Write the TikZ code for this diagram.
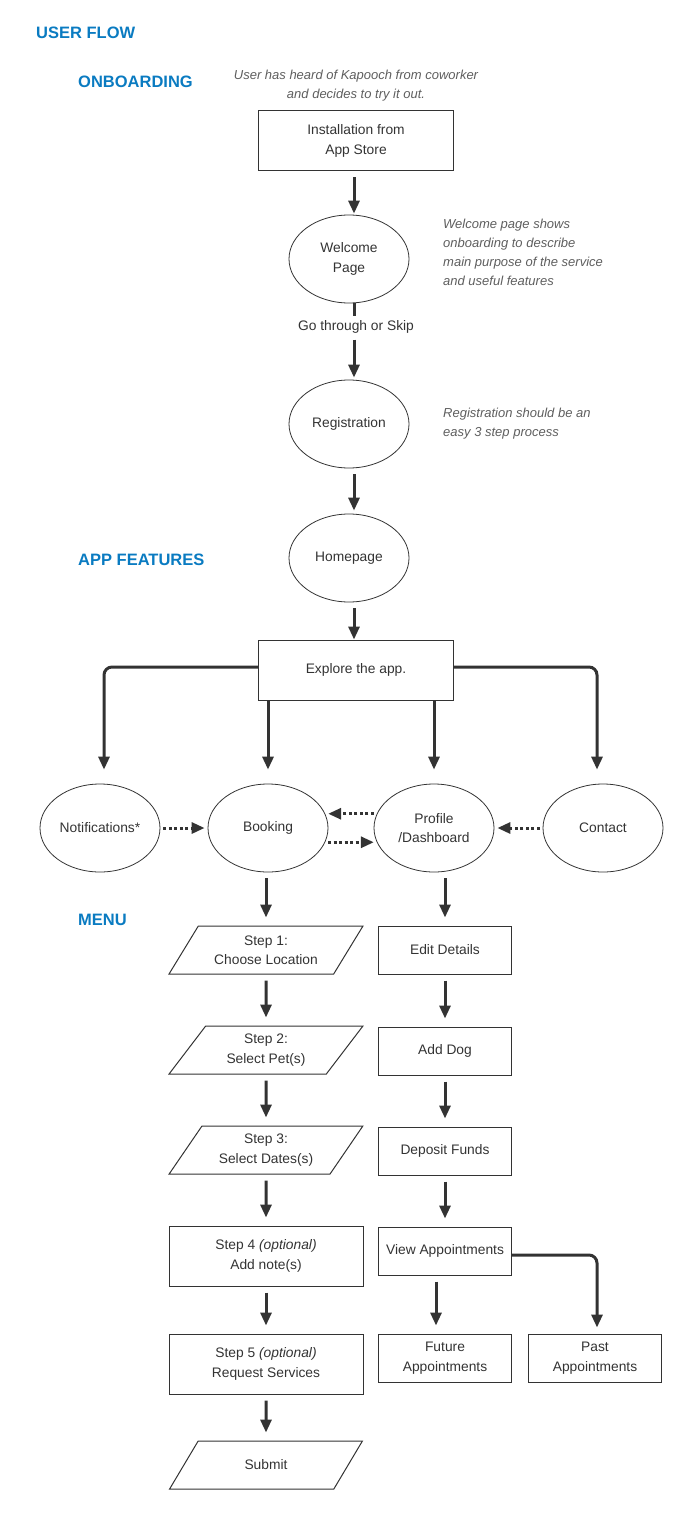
\documentclass[tikz,border=0pt]{standalone}
\usepackage{fontspec}
\setmainfont{Liberation Sans}
\usetikzlibrary{shapes.geometric,arrows.meta}
\usepackage{xcolor}
\definecolor{headblue}{HTML}{0A7BC1}
\definecolor{ink}{HTML}{333333}
\definecolor{notegray}{HTML}{5E5E5E}
\newcommand{\bodyfont}{\fontsize{13.8}{19.5}\selectfont}
\newcommand{\notefont}{\fontsize{13}{19}\selectfont}

\begin{document}
\begin{tikzpicture}[x=1pt,y=-1pt,
  box/.style={draw=ink,line width=1pt,text=ink,font=\bodyfont,align=center,minimum width=195pt,minimum height=60pt,inner sep=2pt},
  smallbox/.style={box,minimum width=133pt,minimum height=48pt},
  bubble/.style={ellipse,draw=ink,line width=.8pt,text=ink,font=\bodyfont,align=center,minimum width=120pt,minimum height=88pt,inner sep=0pt},
  slantbox/.style={trapezium,trapezium left angle=55,trapezium right angle=125,trapezium stretches=true,box,minimum width=194pt,minimum height=48pt},
  flow/.style={draw=ink,line width=3pt,-{Triangle[length=13pt,width=11pt]},shorten <=6pt,shorten >=8pt},
  dotflow/.style={flow,dash pattern=on 3pt off 2.5pt,shorten <=3pt,shorten >=3pt},
  title/.style={text=headblue,font=\fontsize{16.5}{20}\selectfont\bfseries,anchor=west,inner sep=0pt},
  note/.style={text=notegray,font=\notefont\itshape,inner sep=0pt}]
\useasboundingbox (0,0) rectangle (698,1517);
% headings
\node[title] (hflow) at (36,33) {USER FLOW};
\node[title] (honb) at (78,82) {ONBOARDING};
\node[title] (happ) at (78,560) {APP FEATURES};
\node[title] (hmenu) at (78,920) {MENU};
% onboarding
\node[note,align=center] (n1) at (356,86) {User has heard of Kapooch from coworker\\and decides to try it out.};
\node[box] (install) at (356,141) {Installation from\\App Store};
\node[bubble] (welcome) at (349,259) {Welcome\\Page};
\node[note,align=left,anchor=west] (n2) at (443,252) {Welcome page shows\\onboarding to describe\\main purpose of the service\\and useful features};
\node[text=ink,font=\bodyfont,inner sep=2pt] (skip) at (356,327) {Go through or Skip};
\node[bubble] (reg) at (349,424) {Registration};
\node[note,align=left,anchor=west] (n3) at (443,424) {Registration should be an\\easy 3 step process};
\node[bubble] (home) at (349,558) {Homepage};
\node[box] (explore) at (356,670) {Explore the app.};
% app features
\node[bubble] (notif) at (100,828) {Notifications*};
\node[bubble] (booking) at (268,828) {Booking};
\node[bubble] (profile) at (434,828) {Profile\\/Dashboard};
\node[bubble] (contact) at (603,828) {Contact};
% menu
\node[slantbox] (step1) at (266,950) {Step 1:\\Choose Location};
\node[slantbox] (step2) at (266,1050) {Step 2:\\Select Pet(s)};
\node[slantbox] (step3) at (266,1150) {Step 3:\\Select Dates(s)};
\node[box,minimum width=194pt] (step4) at (266,1256) {Step 4 \textit{(optional)}\\Add note(s)};
\node[box,minimum width=194pt] (step5) at (266,1364) {Step 5 \textit{(optional)}\\Request Services};
\node[slantbox] (submit) at (266,1465) {Submit};
\node[smallbox] (edit) at (445,950) {Edit Details};
\node[smallbox] (dog) at (445,1051) {Add Dog};
\node[smallbox] (funds) at (445,1151) {Deposit Funds};
\node[smallbox] (view) at (445,1251) {View Appointments};
\node[smallbox] (future) at (445,1358) {Future\\Appointments};
\node[smallbox] (past) at (595,1358) {Past\\Appointments};
% connectors
\draw[flow,shorten >=1pt] (install.south -| 354,0) -- (welcome.north -| 354,0);
\draw[draw=ink,line width=3pt,shorten >=2pt] (welcome.south -| 354,0) -- (skip.north -| 354,0);
\draw[flow,shorten <=4pt,shorten >=2pt] (skip.south -| 354,0) -- (reg.north -| 354,0);
\draw[flow,shorten >=3pt] (reg.south -| 354,0) -- (home.north -| 354,0);
\draw[flow,shorten >=0pt] (home.south -| 354,0) -- (explore.north -| 354,0);
\draw[flow,rounded corners=8pt,shorten <=0pt,shorten >=14pt] ([yshift=3pt]explore.west) -| ([xshift=4pt]notif.north);
\draw[flow,rounded corners=8pt,shorten <=0pt,shorten >=14pt] ([yshift=3pt]explore.east) -| ([xshift=-6pt]contact.north);
\draw[flow,shorten <=0pt,shorten >=14pt] (booking.north |- explore.south) -- (booking.north);
\draw[flow,shorten <=0pt,shorten >=14pt] (profile.north |- explore.south) -- (profile.north);
\draw[dotflow] (notif.east) -- (booking.west);
\draw[dotflow] (profile.166) -- (booking.14);
\draw[dotflow] (booking.-14) -- (profile.194);
\draw[dotflow] (contact.west) -- (profile.east);
\draw[flow] (booking.south -| step1.north) -- (step1.north);
\draw[flow] (step1.south) -- (step2.north);
\draw[flow] (step2.south) -- (step3.north);
\draw[flow] (step3.south) -- (step4.north);
\draw[flow] (step4.south) -- (step5.north);
\draw[flow] (step5.south) -- (submit.north);
\draw[flow] (edit.north |- profile.south) -- (edit.north);
\draw[flow] (edit.south) -- (dog.north);
\draw[flow] (dog.south) -- (funds.north);
\draw[flow] (funds.south) -- (view.north);
\draw[flow] ([xshift=-9pt]view.south) -- ([xshift=-9pt]future.north);
\draw[flow,rounded corners=8pt,shorten <=0pt,shorten >=6pt] ([yshift=-4pt]view.east) -| ([xshift=2pt]past.north);
\end{tikzpicture}
\end{document}
